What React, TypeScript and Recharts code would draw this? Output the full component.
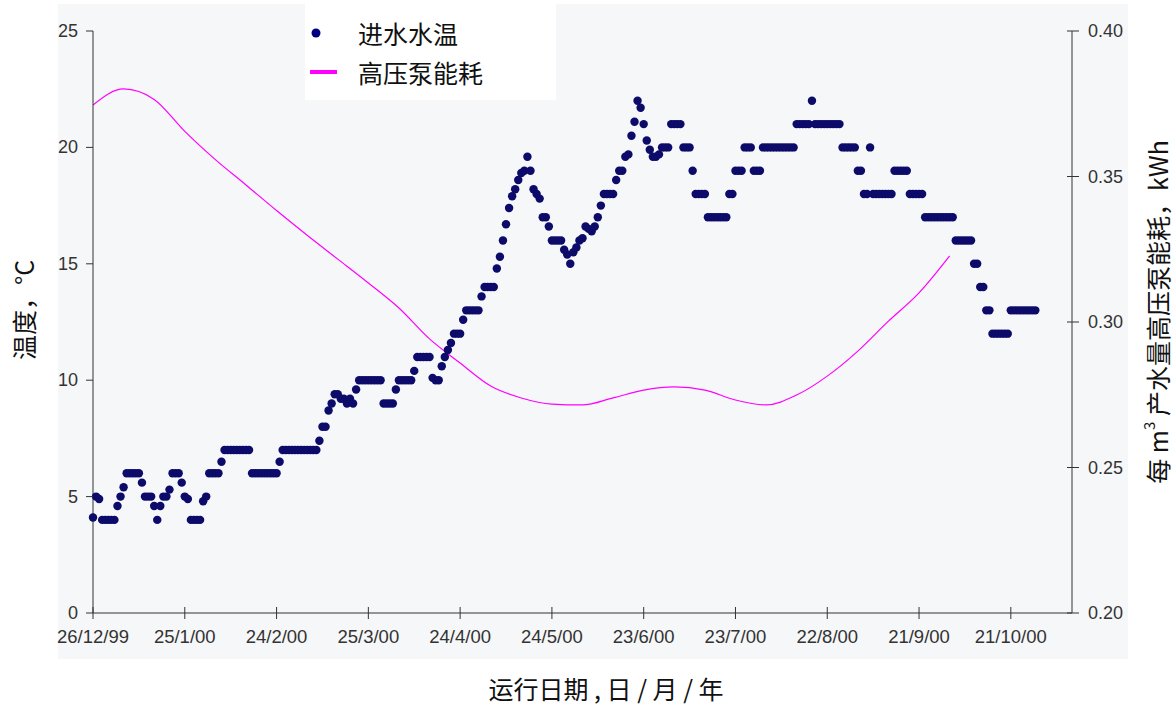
import React from 'react';
import { ComposedChart, Scatter, Line, XAxis, YAxis, ZAxis, Legend } from 'recharts';

// x axis: days counted from 26/12/99
const dayTicks = [0, 30, 60, 90, 120, 150, 180, 210, 240, 270, 300];
const dayTickLabels = [
  '26/12/99', '25/1/00', '24/2/00', '25/3/00', '24/4/00', '24/5/00',
  '23/6/00', '23/7/00', '22/8/00', '21/9/00', '21/10/00',
];
const tempTicks = [0, 5, 10, 15, 20, 25];
const energyTicks = [0.2, 0.25, 0.3, 0.35, 0.4];

// daily inlet water temperature, °C (index = day)
const inletTemp = [
  4.1, 5.0, 4.9, 4.0, 4.0, 4.0, 4.0, 4.0, 4.6, 5.0,
  5.4, 6, 6, 6, 6, 6, 5.6, 5, 5, 5,
  4.6, 4, 4.6, 5, 5, 5.3, 6, 6, 6, 5.6,
  5, 4.9, 4, 4, 4, 4, 4.8, 5, 6, 6,
  6, 6, 6.5, 7, 7, 7, 7, 7, 7, 7,
  7, 7, 6, 6, 6, 6, 6, 6, 6, 6,
  6, 6.5, 7, 7, 7, 7, 7, 7, 7, 7,
  7, 7, 7, 7, 7.4, 8, 8, 8.7, 9, 9.4,
  9.4, 9.2, 9.2, 9, 9.2, 9, 9.6, 10, 10, 10,
  10, 10, 10, 10, 10, 9, 9, 9, 9, 9.6,
  10, 10, 10, 10, 10, 10.4, 11, 11, 11, 11,
  11, 10.1, 10, 10, 10.6, 11, 11.3, 11.6, 12, 12,
  12, 12.6, 13, 13, 13, 13, 13, 13.6, 14, 14,
  14, 14, 14.8, 15.3, 16, 16.7, 17.4, 17.9, 18.2, 18.6,
  18.9, 19, 19.6, 19, 18.2, 18, 17.8, 17, 17, 16.6,
  16, 16, 16, 16, 15.6, 15.4, 15, 15.5, 15.7, 16,
  16.1, 16.6, 16.5, 16.4, 16.6, 17, 17.5, 18, 18, 18,
  18, 18.6, 19, 19, 19.6, 19.7, 20.5, 21.1, 22, 21.7,
  21, 20.3, 19.9, 19.6, 19.6, 19.7, 20, 20, 20, 21,
  21, 21, 21, 20, 20, 20, 19, 18, 18, 18,
  18, 17, 17, 17, 17, 17, 17, 17, 18, 18,
  19, 19, 19, 20, 20, 20, 19, 19, 19, 20,
  20, 20, 20, 20, 20, 20, 20, 20, 20, 20,
  21, 21, 21, 21, 21, 22, 21, 21, 21, 21,
  21, 21, 21, 21, 21, 20, 20, 20, 20, 20,
  19, 19, 18, 18, 20, 18, 18, 18, 18, 18,
  18, 18, 19, 19, 19, 19, 19, 18, 18, 18,
  18, 18, 17, 17, 17, 17, 17, 17, 17, 17,
  17, 17, 16, 16, 16, 16, 16, 16, 15, 15,
  14, 14, 13, 13, 12, 12, 12, 12, 12, 12,
  13, 13, 13, 13, 13, 13, 13, 13, 13,
];

// high-pressure pump energy per m3 of product water, kWh
const energyDays = [
  0, 10, 20, 30, 40, 50, 60, 70, 80, 90, 100, 110, 120, 130, 140,
  150, 160, 170, 180, 190, 200, 210, 220, 230, 240, 250, 260, 270, 280,
];
const energyKwh = [
  0.3746, 0.3801, 0.3765, 0.3655, 0.3558, 0.3471, 0.3383, 0.3298, 0.3216, 0.3134,
  0.3048, 0.2942, 0.2859, 0.278, 0.2739, 0.2718, 0.2715, 0.2739, 0.2766, 0.2777,
  0.2766, 0.2732, 0.2715, 0.2749, 0.2814, 0.29, 0.3003, 0.31, 0.3227,
];

const rows: { day: number; temp: number; energy?: number }[] = inletTemp.map((temp, day) => ({ day, temp }));
energyDays.forEach((d, i) => {
  rows[d].energy = energyKwh[i];
});

const tempColor = '#0d0b6a';
const energyColor = '#ff00ff';
const axisColor = '#333333';
const tickFont = '"Liberation Sans", Arial, sans-serif';
const cjkFont = '"Noto Sans CJK SC", "Noto Sans", sans-serif';

const DateTick = (props: any) => {
  const { x, y, payload } = props;
  const label = dayTickLabels[dayTicks.indexOf(payload.value)];
  return (
    <g>
      <line x1={x} x2={x} y1={y - 6} y2={y + 6} stroke={axisColor} />
      <text x={x} y={y + 30} textAnchor="middle" fill="#333" fontSize={18.5} fontFamily={tickFont}>
        {label}
      </text>
    </g>
  );
};

const TempTick = (props: any) => {
  const { x, y, payload } = props;
  return (
    <g>
      <line x1={x - 7} x2={x} y1={y} y2={y} stroke={axisColor} />
      <text x={x - 15} y={y + 6} textAnchor="end" fill="#333" fontSize={18} fontFamily={tickFont}>
        {payload.value}
      </text>
    </g>
  );
};

const EnergyTick = (props: any) => {
  const { x, y, payload } = props;
  return (
    <g>
      <line x1={x - 5} x2={x + 7} y1={y} y2={y} stroke={axisColor} />
      <text x={x + 16} y={y + 6} textAnchor="start" fill="#333" fontSize={18} fontFamily={tickFont}>
        {payload.value.toFixed(2)}
      </text>
    </g>
  );
};

const LegendBox = () => (
  <svg width={251} height={96} style={{ display: 'block', background: '#ffffff' }}>
    <circle cx={11} cy={29} r={4.5} fill="#000080" />
    <rect x={5} y={66} width={27} height={4} fill={energyColor} />
    <text x={53} y={29} dominantBaseline="central" fontSize={25} fontFamily={cjkFont} fill="#111">
      进水水温
    </text>
    <text x={53} y={68} dominantBaseline="central" fontSize={25} fontFamily={cjkFont} fill="#111">
      高压泵能耗
    </text>
  </svg>
);

const App = () => {
  return (
    <div style={{ position: 'absolute', left: 0, top: 0, width: 1174, height: 706, background: '#ffffff' }}>
      <div style={{ position: 'absolute', left: 58, top: 4, width: 1070, height: 655, background: '#f6f7f9' }} />
      <ComposedChart
        width={1174}
        height={706}
        data={rows}
        margin={{ top: 31, right: 42, bottom: 53, left: 33 }}
      >
        <XAxis
          dataKey="day"
          type="number"
          domain={[0, 320]}
          ticks={dayTicks}
          height={40}
          axisLine={{ stroke: axisColor }}
          tickLine={false}
          tickSize={0}
          tickMargin={0}
          tick={<DateTick />}
          interval={0}
          label={{
            content: () => (
              <text x={606} y={688} textAnchor="middle" dominantBaseline="central" fontSize={25} fontFamily={cjkFont} fill="#111">
                运行日期 , 日 / 月 / 年
              </text>
            ),
          }}
        />
        <YAxis
          yAxisId="left"
          dataKey="temp"
          type="number"
          domain={[0, 25]}
          ticks={tempTicks}
          width={60}
          axisLine={{ stroke: axisColor }}
          tickLine={false}
          tickSize={0}
          tickMargin={0}
          tick={<TempTick />}
          interval={0}
          label={{
            content: () => (
              <text
                x={23}
                y={310}
                transform="rotate(-90, 23, 310)"
                textAnchor="middle"
                dominantBaseline="central"
                fontSize={25}
                fontFamily={cjkFont}
                fill="#111"
              >
                温度，°C
              </text>
            ),
          }}
        />
        <YAxis
          yAxisId="right"
          orientation="right"
          type="number"
          domain={[0.2, 0.4]}
          ticks={energyTicks}
          width={60}
          axisLine={{ stroke: axisColor }}
          tickLine={false}
          tickSize={0}
          tickMargin={0}
          tick={<EnergyTick />}
          interval={0}
          label={{
            content: () => (
              <text
                x={1157}
                y={312}
                transform="rotate(-90, 1157, 312)"
                textAnchor="middle"
                dominantBaseline="central"
                fontSize={25}
                fontFamily={cjkFont}
                fill="#111"
              >
                每 m<tspan dy={-9} fontSize={15}>3</tspan>
                <tspan dy={9}> 产水量高压泵能耗，kWh</tspan>
              </text>
            ),
          }}
        />
        <ZAxis range={[56, 56]} />
        <Legend
          layout="horizontal"
          verticalAlign="middle"
          align="center"
          content={<LegendBox />}
          wrapperStyle={{ left: 305, top: 4, width: 251, height: 96 }}
        />
        <Scatter
          yAxisId="left"
          name="进水水温"
          dataKey="temp"
          fill={tempColor}
          isAnimationActive={false}
        />
        <Line
          yAxisId="right"
          name="高压泵能耗"
          type="monotone"
          dataKey="energy"
          stroke={energyColor}
          strokeWidth={1.2}
          dot={false}
          connectNulls
          isAnimationActive={false}
        />
      </ComposedChart>
    </div>
  );
};

export default App;
